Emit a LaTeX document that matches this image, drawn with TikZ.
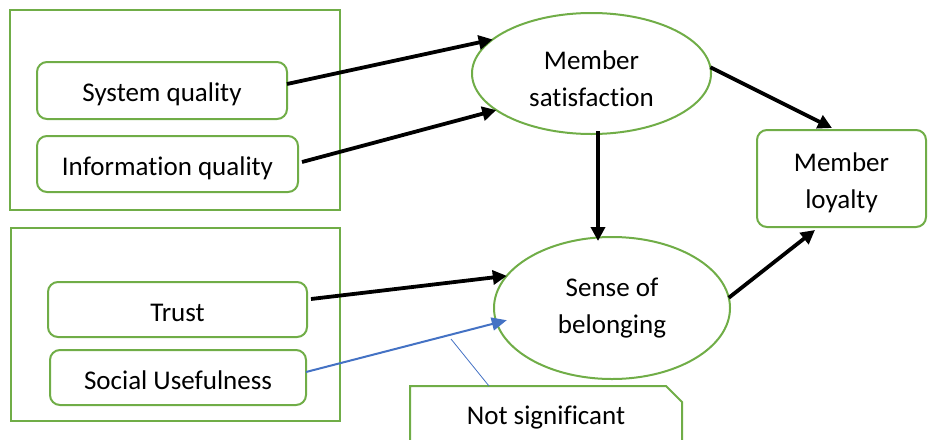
\documentclass[tikz,border=0pt]{standalone}
\usepackage{fontspec}
\setmainfont{Carlito}[Ligatures=NoCommon,Contextuals=NoAlternate]
\usetikzlibrary{arrows.meta,shapes.geometric,shapes.misc}

\definecolor{grn}{HTML}{70AD47}
\definecolor{weakblue}{HTML}{4472C4}

\begin{document}
\begin{tikzpicture}[x=1pt,y=-1pt,
  font=\fontsize{27}{37}\selectfont,
  groupbox/.style={draw=grn,line width=2pt,inner sep=0,outer sep=0},
  itembox/.style={draw=grn,line width=2pt,rounded corners=10pt,inner sep=0,outer sep=0},
  oval/.style={ellipse,draw=grn,line width=2pt,inner sep=0,outer sep=0},
  note/.style={chamfered rectangle,chamfered rectangle corners=north east,
    chamfered rectangle xsep=8pt,chamfered rectangle ysep=8pt,
    draw=grn,line width=2pt,inner sep=0,outer sep=0},
  lbl/.style={align=center,inner sep=0},
  arr/.style={line width=3.8pt,-{Triangle[length=14pt,width=14pt]}},
  weakarr/.style={draw=weakblue,fill=weakblue,line width=2pt,-{Triangle[length=15pt,width=13pt]}},
  pointer/.style={draw=weakblue,line width=0.8pt}
]
\useasboundingbox (0,0) rectangle (928,439);

% grouping frames
\node[groupbox,minimum width=330.5pt,minimum height=200.5pt] (g1) at (174.75,109.75) {};
\node[groupbox,minimum width=329pt,minimum height=193pt] (g2) at (175.5,324.5) {};

% antecedents
\node[itembox,minimum width=250pt,minimum height=57pt] (sq) at (162,90.5) {};
\node[itembox,minimum width=261pt,minimum height=56pt] (iq) at (167.5,164) {};
\node[itembox,minimum width=259pt,minimum height=55pt] (tr) at (177.5,309.5) {};
\node[itembox,minimum width=256pt,minimum height=55pt] (su) at (178,377.5) {};

% mediators and outcome
\node[oval,minimum width=239pt,minimum height=121pt] (ms) at (591.5,73.5) {};
\node[oval,minimum width=236pt,minimum height=142pt] (sob) at (612,308) {};
\node[itembox,minimum width=169pt,minimum height=97pt] (ml) at (841.5,178.5) {};

% callout with snipped corner
\node[note,minimum width=272pt,minimum height=64pt] (ns) at (546,418) {Not significant};
\coordinate (cp) at (451,339);

% labels
\node[lbl] (sq-t) at ([yshift=-4pt]sq.center) {System quality};
\node[lbl] (iq-t) at ([yshift=-4pt]iq.center) {Information quality};
\node[lbl] (tr-t) at ([yshift=-3pt]tr.center) {Trust};
\node[lbl] (su-t) at ([yshift=-3pt]su.center) {Social Usefulness};
\node[lbl] (ms-t) at ([yshift=-5pt]ms.center) {Member\\satisfaction};
\node[lbl] (sob-t) at ([yshift=-0.5pt]sob.center) {Sense of\\belonging};
\node[lbl] (ml-t) at ([yshift=-4.5pt]ml.center) {Member\\loyalty};

% paths
\draw[arr] ([yshift=6.5pt]sq.east) -- (ms.161);
\draw[arr] ([xshift=4pt,yshift=2pt]iq.east) -- (ms.201);
\draw[arr] ([xshift=6.5pt,yshift=3pt]ms.south) -- ([xshift=6.5pt,yshift=-4pt]ms.south |- sob.north);
\draw[arr] (ms.3) -- ([xshift=-9.5pt,yshift=2pt]ml.north);
\draw[arr] (sob.5) -- ([xshift=-26.5pt,yshift=-3pt]ml.south);
\draw[arr] ([xshift=4pt,yshift=10.5pt]tr.east) -- (sob.163.5);
\draw[weakarr] ([yshift=5.5pt]su.east) -- ([xshift=11pt]sob.186.5);
\draw[pointer] (cp) -- ([xshift=-57pt]ns.north);
\end{tikzpicture}
\end{document}
